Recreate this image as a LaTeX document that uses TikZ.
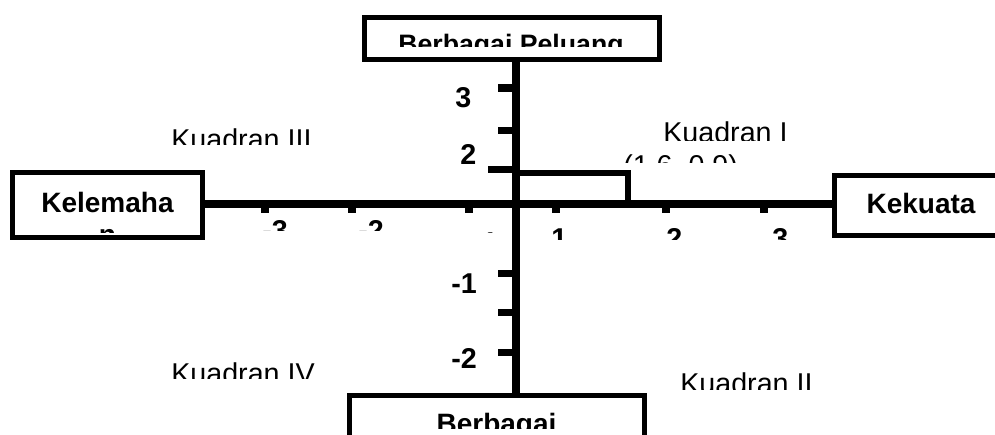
\documentclass[tikz,border=0pt]{standalone}
\usepackage{fontspec}
\setmainfont{Liberation Sans}
\begin{document}
\begin{tikzpicture}[x=0.75pt,y=-0.75pt,
  box/.style={draw, line width=3.75pt, rectangle, inner sep=0pt},
  reg/.style={font=\fontsize{21.5}{25}\selectfont, inner sep=0pt, anchor=base west},
  bld/.style={font=\fontsize{21.5}{25}\selectfont\bfseries, inner sep=0pt, anchor=base west},
  boxtxt/.style={font=\fontsize{21}{25}\selectfont\bfseries, inner sep=0pt, anchor=base},
  axisline/.style={line width=6.5pt},
  htick/.style={line width=6pt},
  vtick/.style={line width=5.25pt},
  pointline/.style={line width=5pt},
]
\useasboundingbox (0,0) rectangle (995,435);
\clip (0,0) rectangle (995,435);

% boxes
\node[box, minimum width=221.25pt, minimum height=31.5pt] (T) at (512,38.5) {};
\node[box, minimum width=142.5pt, minimum height=48.75pt] (L) at (107.5,205) {};
\node[box, minimum width=129.75pt, minimum height=45pt] (R) at (921,205.5) {};
\node[box, minimum width=221.25pt, minimum height=45pt] (B) at (497,425.5) {};

% axes
\coordinate (O) at (516,204);
\draw[axisline] (T.south -| O) -- (B.north -| O);
\draw[axisline] (L.east |- O) -- (R.west |- O);

% ticks on horizontal axis
\foreach \x in {265,352,469,556,666,764} \draw[htick] (\x,204) -- (\x,213);
% ticks on vertical axis
\foreach \y in {88,130,273,312,352} \draw[vtick] (498,\y) -- (516,\y);
\draw[vtick] (488,169) -- (516,169);

% point (1,6 ; 0,9)
\coordinate (P) at (628,173);
\draw[pointline] (O |- P) -- (P) -- (P |- O);

% box texts
\begin{scope}
  \clip (0,0) rectangle (995,47);
  \node[boxtxt, font=\fontsize{20}{24}\selectfont\bfseries] (tT) at (511,54) {Berbagai Peluang};
\end{scope}
\node[boxtxt] (tL) at (107.5,212) {Kelemaha};
\begin{scope}
  \clip (0,0) rectangle (995,232);
  \node[boxtxt] (tL2) at (107.5,244) {n};
\end{scope}
\node[boxtxt] (tR) at (921,213) {Kekuata};
\begin{scope}
  \clip (0,0) rectangle (995,428);
  \node[boxtxt] (tB) at (496.5,433.5) {Berbagai};
\end{scope}

% quadrant labels
\begin{scope}
  \clip (0,0) rectangle (995,144);
  \node[reg] (k3) at (171,149.5) {Kuadran III};
\end{scope}
\begin{scope}
  \clip (0,0) rectangle (995,140);
  \node[reg] (k1) at (663,142.5) {Kuadran I};
\end{scope}
\begin{scope}
  \clip (0,0) rectangle (995,162);
  \node[reg] (pt) at (623,175.5) {(1,6, 0,9)};
\end{scope}
\begin{scope}
  \clip (0,0) rectangle (995,378);
  \node[reg] (k4) at (171,383.5) {Kuadran IV};
\end{scope}
\begin{scope}
  \clip (0,0) rectangle (995,389);
  \node[reg] (k2) at (680,393.5) {Kuadran II};
\end{scope}

% horizontal axis numbers
\begin{scope}
  \clip (0,0) rectangle (995,230.5);
  \node[bld] (xm3) at (262,240.5) {-3};
  \node[bld] (xm2) at (358,240.5) {-2};
\end{scope}
\begin{scope}
  \clip (0,0) rectangle (995,232.5);
  \node[bld] (xm1) at (472,252) {-1};
\end{scope}
\begin{scope}
  \clip (0,0) rectangle (995,239);
  \node[bld] (xp1) at (551,248.5) {1};
  \node[bld] (xp2) at (666,248.5) {2};
  \node[bld] (xp3) at (772,248.5) {3};
\end{scope}

% vertical axis numbers
\node[bld] (y3) at (455,107.5) {3};
\node[bld] (y2) at (460,164) {2};
\node[bld] (ym1) at (451,293) {-1};
\node[bld] (ym2) at (451,368) {-2};
\end{tikzpicture}
\end{document}
